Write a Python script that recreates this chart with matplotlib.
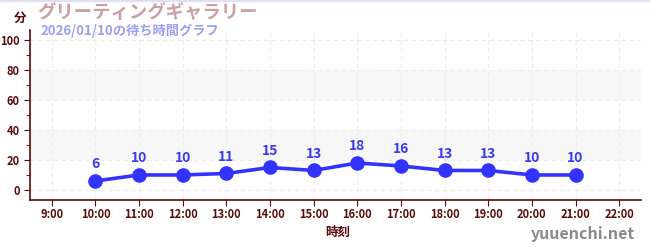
import matplotlib
matplotlib.use("Agg")
import matplotlib.pyplot as plt
from matplotlib.ticker import MultipleLocator

plt.rcParams['font.family'] = ['Noto Sans CJK JP', 'DejaVu Sans']

hours = [10, 11, 12, 13, 14, 15, 16, 17, 18, 19, 20, 21]
waits = [6, 10, 10, 11, 15, 13, 18, 16, 13, 13, 10, 10]
tick_hours = list(range(9, 23))
tick_labels = [f"{h}:00" for h in tick_hours]
title = "グリーティングギャラリー"
subtitle = "2026/01/10の待ち時間グラフ"

axis_col = "#5a0a0a"
fig = plt.figure(figsize=(6.5, 2.5), dpi=100)
ax = fig.add_axes([30/650, 50/250, 611/650, 170/250])
ax.set_xlim(8.5, 22.5)
ax.set_ylim(-6.7, 106.7)

for lo, hi in [(20, 40), (60, 80)]:
    ax.axhspan(lo, hi, color="#f7f7f7", zorder=0, lw=0)

ax.set_xticks(tick_hours)
ax.set_xticklabels(tick_labels, fontweight='bold')
ax.set_yticks([0, 20, 40, 60, 80, 100])
ax.set_yticklabels(["0", "20", "40", "60", "80", "100"], fontweight='bold')
ax.yaxis.set_minor_locator(MultipleLocator(10))
ax.grid(True, which='major', color="#ececec", linestyle=(0, (4, 3)), lw=0.8, zorder=0)

for s in ['top', 'right']:
    ax.spines[s].set_visible(False)
for s in ['left', 'bottom']:
    ax.spines[s].set_color(axis_col)
    ax.spines[s].set_linewidth(1.2)

ax.tick_params(axis='both', which='major', colors=axis_col, labelsize=8, length=4, width=0.8)
ax.tick_params(axis='y', which='minor', colors="#cc0000", length=3, width=0.8)
ax.tick_params(axis='x', pad=2)

ax.plot(hours, waits, color="#3333ff", lw=2.6, marker='o', markersize=9.5, zorder=3)
for h, w in zip(hours, waits):
    ax.annotate(str(w), (h, w), xytext=(0, 7), textcoords='offset points',
                ha='center', va='bottom', color="#3a3aee", fontsize=10, fontweight='bold')

fig.text(14/650, 1 - 18/250, "分", ha='left', va='center', color=axis_col, fontsize=9, fontweight='bold')
fig.text(37/650, 1 - 13/250, title, ha='left', va='center', color="#c9a0a3", fontsize=13.2, fontweight='bold')
fig.text(40/650, 1 - 31/250, subtitle, ha='left', va='center', color="#9da0f0", fontsize=9.5, fontweight='bold')
fig.text(338/650, 1 - 232/250, "時刻", ha='center', va='center', color=axis_col, fontsize=9, fontweight='bold')
fig.text(635/650, 1 - 234/250, "yuuenchi.net", ha='right', va='center', color="#8a8a8a", fontsize=11.5, fontweight='bold')
fig.add_artist(plt.Line2D([0, 1], [0.998, 0.998], color="#e0e0f0", lw=1.5, transform=fig.transFigure))

fig.savefig("out.png", dpi=100)
